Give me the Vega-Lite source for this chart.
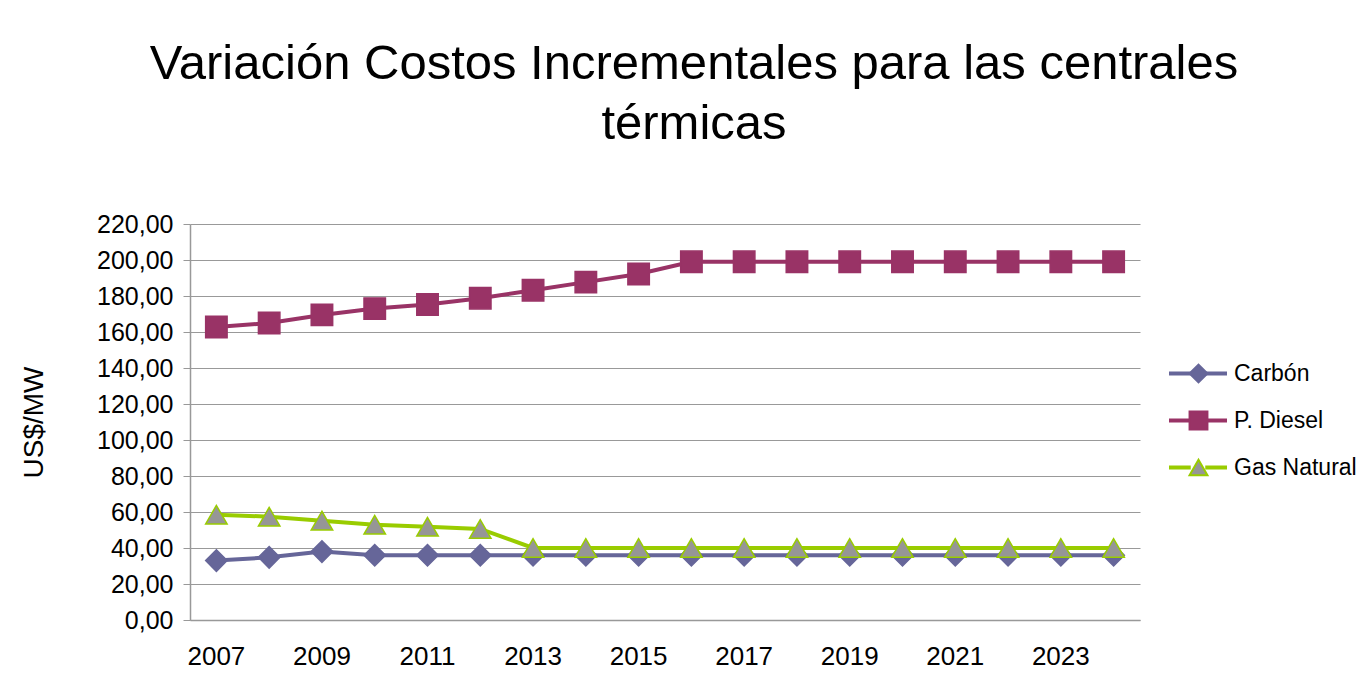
{
  "$schema": "https://vega.github.io/schema/vega-lite/v6.json",
  "autosize": "none",
  "width": 950,
  "height": 396,
  "padding": {"left": 190, "top": 224, "right": 220, "bottom": 79},
  "background": "white",
  "title": {
    "text": ["Variación Costos Incrementales para las centrales", "térmicas"],
    "font": "Liberation Sans",
    "fontSize": 49,
    "fontWeight": "normal",
    "color": "black",
    "anchor": "middle",
    "frame": "group",
    "dx": 29,
    "lineHeight": 60,
    "offset": 63
  },
  "config": {
    "view": {"stroke": null},
    "font": "Liberation Sans"
  },
  "data": {
    "values": [
      {"year": "2007", "serie": "Carbón", "value": 33},
      {"year": "2008", "serie": "Carbón", "value": 34.8},
      {"year": "2009", "serie": "Carbón", "value": 38},
      {"year": "2010", "serie": "Carbón", "value": 36},
      {"year": "2011", "serie": "Carbón", "value": 36},
      {"year": "2012", "serie": "Carbón", "value": 36},
      {"year": "2013", "serie": "Carbón", "value": 36},
      {"year": "2014", "serie": "Carbón", "value": 36},
      {"year": "2015", "serie": "Carbón", "value": 36},
      {"year": "2016", "serie": "Carbón", "value": 36},
      {"year": "2017", "serie": "Carbón", "value": 36},
      {"year": "2018", "serie": "Carbón", "value": 36},
      {"year": "2019", "serie": "Carbón", "value": 36},
      {"year": "2020", "serie": "Carbón", "value": 36},
      {"year": "2021", "serie": "Carbón", "value": 36},
      {"year": "2022", "serie": "Carbón", "value": 36},
      {"year": "2023", "serie": "Carbón", "value": 36},
      {"year": "2024", "serie": "Carbón", "value": 36},
      {"year": "2007", "serie": "P. Diesel", "value": 162.8},
      {"year": "2008", "serie": "P. Diesel", "value": 165},
      {"year": "2009", "serie": "P. Diesel", "value": 169.5},
      {"year": "2010", "serie": "P. Diesel", "value": 173},
      {"year": "2011", "serie": "P. Diesel", "value": 175.3},
      {"year": "2012", "serie": "P. Diesel", "value": 178.8},
      {"year": "2013", "serie": "P. Diesel", "value": 183.2},
      {"year": "2014", "serie": "P. Diesel", "value": 187.7},
      {"year": "2015", "serie": "P. Diesel", "value": 192.2},
      {"year": "2016", "serie": "P. Diesel", "value": 199},
      {"year": "2017", "serie": "P. Diesel", "value": 199},
      {"year": "2018", "serie": "P. Diesel", "value": 199},
      {"year": "2019", "serie": "P. Diesel", "value": 199},
      {"year": "2020", "serie": "P. Diesel", "value": 199},
      {"year": "2021", "serie": "P. Diesel", "value": 199},
      {"year": "2022", "serie": "P. Diesel", "value": 199},
      {"year": "2023", "serie": "P. Diesel", "value": 199},
      {"year": "2024", "serie": "P. Diesel", "value": 199},
      {"year": "2007", "serie": "Gas Natural", "value": 58.5},
      {"year": "2008", "serie": "Gas Natural", "value": 57.4},
      {"year": "2009", "serie": "Gas Natural", "value": 55.2},
      {"year": "2010", "serie": "Gas Natural", "value": 52.9},
      {"year": "2011", "serie": "Gas Natural", "value": 51.8},
      {"year": "2012", "serie": "Gas Natural", "value": 50.6},
      {"year": "2013", "serie": "Gas Natural", "value": 40},
      {"year": "2014", "serie": "Gas Natural", "value": 40},
      {"year": "2015", "serie": "Gas Natural", "value": 40},
      {"year": "2016", "serie": "Gas Natural", "value": 40},
      {"year": "2017", "serie": "Gas Natural", "value": 40},
      {"year": "2018", "serie": "Gas Natural", "value": 40},
      {"year": "2019", "serie": "Gas Natural", "value": 40},
      {"year": "2020", "serie": "Gas Natural", "value": 40},
      {"year": "2021", "serie": "Gas Natural", "value": 40},
      {"year": "2022", "serie": "Gas Natural", "value": 40},
      {"year": "2023", "serie": "Gas Natural", "value": 40},
      {"year": "2024", "serie": "Gas Natural", "value": 40}
    ]
  },
  "encoding": {
    "x": {
      "field": "year",
      "type": "ordinal",
      "scale": {"type": "band", "paddingInner": 0, "paddingOuter": 0},
      "axis": {
        "title": null,
        "labelAngle": 0,
        "values": ["2007", "2009", "2011", "2013", "2015", "2017", "2019", "2021", "2023"],
        "labelFont": "Liberation Sans",
        "labelFontSize": 26,
        "labelColor": "black",
        "labelPadding": 23,
        "ticks": false,
        "domainColor": "#999999",
        "domainWidth": 1.5,
        "grid": false
      }
    },
    "y": {
      "field": "value",
      "type": "quantitative",
      "scale": {"domain": [0, 220], "nice": false},
      "axis": {
        "title": "US$/MW",
        "titleFont": "Liberation Sans",
        "titleFontSize": 28,
        "titleFontWeight": "normal",
        "titleColor": "black",
        "titlePadding": 48,
        "values": [0, 20, 40, 60, 80, 100, 120, 140, 160, 180, 200, 220],
        "labelExpr": "replace(format(datum.value, '.2f'), '.', ',')",
        "labelFont": "Liberation Sans",
        "labelFontSize": 25,
        "labelColor": "black",
        "labelPadding": 10,
        "tickSize": 7,
        "tickColor": "#999999",
        "domainColor": "#999999",
        "domainWidth": 1.5,
        "gridColor": "#999999",
        "gridWidth": 1.2
      }
    }
  },
  "layer": [
    {
      "mark": {"type": "line", "strokeWidth": 4},
      "encoding": {
        "color": {
          "field": "serie",
          "type": "nominal",
          "sort": ["Carbón", "P. Diesel", "Gas Natural"],
          "scale": {"range": ["#666699", "#993366", "#99CC00"]},
          "legend": {
            "title": null,
            "orient": "none",
            "legendX": 977,
            "legendY": 126,
            "labelFont": "Liberation Sans",
            "labelFontSize": 23,
            "labelColor": "black",
            "labelOffset": 5,
            "labelLimit": 400,
            "symbolType": "M-1,0H-0.25M0.25,0H1",
            "symbolSize": 3364,
            "symbolStrokeWidth": 4,
            "clipHeight": 47,
            "rowPadding": 0,
            "padding": 0
          }
        }
      }
    },
    {
      "mark": {"type": "point", "filled": true, "strokeWidth": 1.5, "opacity": 1, "size": 460},
      "encoding": {
        "shape": {
          "field": "serie",
          "type": "nominal",
          "scale": {"domain": ["Carbón", "P. Diesel", "Gas Natural"], "range": ["diamond", "square", "triangle-up"]},
          "legend": {
            "title": null,
            "orient": "none",
            "legendX": 997,
            "legendY": 126,
            "labelExpr": "''",
            "labelFontSize": 23,
            "labelOffset": 0,
            "symbolSize": 320,
            "symbolStrokeWidth": 2,
            "symbolOpacity": 1,
            "clipHeight": 47,
            "rowPadding": 0,
            "padding": 0
          }
        },
        "fill": {
          "field": "serie",
          "type": "nominal",
          "scale": {"domain": ["Carbón", "P. Diesel", "Gas Natural"], "range": ["#666699", "#993366", "#969696"]}
        },
        "stroke": {
          "field": "serie",
          "type": "nominal",
          "scale": {"domain": ["Carbón", "P. Diesel", "Gas Natural"], "range": ["#666699", "#993366", "#99CC00"]}
        }
      }
    }
  ]
}
